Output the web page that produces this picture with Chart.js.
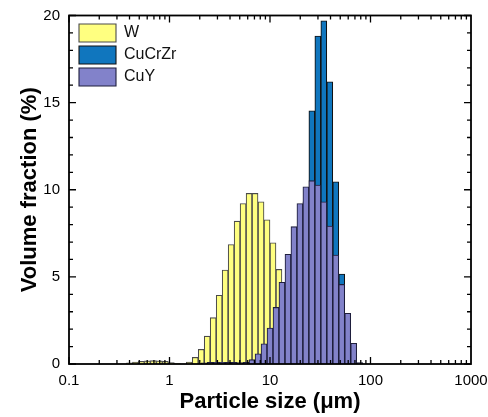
<!DOCTYPE html>
<html>
<head>
<meta charset="utf-8">
<title>Particle size distribution</title>
<script src="https://cdn.jsdelivr.net/npm/chart.js@4.4.1/dist/chart.umd.min.js"></script>
<style>
  html, body { margin: 0; padding: 0; background: #ffffff; }
  #wrap { width: 488px; height: 417px; }
</style>
</head>
<body>
<div id="wrap"><canvas id="psd" width="488" height="417"></canvas></div>
<script>
// Bin centres (µm) of the W measurement
const wSizes = [0.3997, 0.4584, 0.5257, 0.6029, 0.6914, 0.7930, 0.9094, 1.043, 1.196, 1.372,
                1.573, 1.804, 2.069, 2.373, 2.721, 3.121, 3.579, 4.105, 4.707, 5.398,
                6.191, 7.100, 8.143, 9.338, 10.71, 12.28, 14.09, 16.15, 18.53, 21.25,
                24.36, 27.94];
// Volume fraction (%) per W bin
const wValues = [0.07, 0.11, 0.15, 0.18, 0.19, 0.18, 0.15, 0.08, 0.03, null,
                 0.11, 0.38, 0.84, 1.60, 2.66, 3.94, 5.39, 6.86, 8.20, 9.21,
                 9.79, 9.79, 9.31, 8.28, 6.96, 5.43, 4.05, 2.75, 1.70, 0.95,
                 0.45, 0.15];

// Bin centres (µm) of the copper alloy measurements
const cuSizes = [2.216, 2.541, 2.914, 3.342, 3.833, 4.395, 5.041, 5.781, 6.630, 7.603,
                 8.720, 10.00, 11.47, 13.15, 15.09, 17.30, 19.84, 22.75, 26.09, 29.92,
                 34.31, 39.36, 45.14, 51.76, 59.36, 68.08, 78.07];
// Volume fraction (%) per bin, CuCrZr
const cucrzrValues = [null, null, null, null, null, null, null, null, null, null,
                      null, null, null, 0.3, 1.0, 3.2, 6.8, 9.3, 14.53, 18.82,
                      19.70, 16.20, 10.46, 5.16, 1.6, 0.3, null];
// Volume fraction (%) per bin, CuY
const cuyValues = [0.06, 0.09, 0.10, 0.10, 0.09, 0.09, 0.08, 0.09, 0.25, 0.59,
                   1.16, 2.06, 3.25, 4.69, 6.30, 7.88, 9.21, 10.17, 10.52, 10.27,
                   9.31, 7.92, 6.25, 4.57, 2.91, 1.19, 0.08];

// Axis ticks
const xTicks = [0.1, 1, 10, 100, 1000];
const yTicks = [0, 5, 10, 15, 20];

const FONT = '"Liberation Sans", Arial, Helvetica, sans-serif';

function points(sizes, values) {
  const out = [];
  sizes.forEach((s, i) => { if (values[i] !== null) out.push({ x: s, y: values[i] }); });
  return out;
}

// Black frame with inward-pointing ticks on all four sides
const framePlugin = {
  id: 'frame',
  afterDraw(chart) {
    const { ctx, chartArea: a, scales: { x, y } } = chart;
    ctx.save();
    ctx.strokeStyle = '#000';
    ctx.lineWidth = 1.3;
    ctx.beginPath();
    for (let d = 0.1; d < 1000; d *= 10) {
      for (let m = 1; m <= 9; m++) {
        const px = x.getPixelForValue(d * m);
        const len = m === 1 ? 7 : 4;
        ctx.moveTo(px, a.bottom); ctx.lineTo(px, a.bottom - len);
        ctx.moveTo(px, a.top); ctx.lineTo(px, a.top + len);
      }
    }
    for (let v = y.min; v <= y.max; v++) {
      const py = y.getPixelForValue(v);
      const len = v % 5 === 0 ? 7 : 4;
      ctx.moveTo(a.left, py); ctx.lineTo(a.left + len, py);
      ctx.moveTo(a.right, py); ctx.lineTo(a.right - len, py);
    }
    ctx.stroke();
    ctx.lineWidth = 1.8;
    ctx.strokeRect(a.left, a.top, a.right - a.left, a.bottom - a.top);
    ctx.restore();
  }
};

// Places the legend in the upper-left corner of the plot area
const legendPlacer = {
  id: 'legendPlacer',
  afterLayout(chart) {
    const lg = chart.legend;
    if (!lg) return;
    const a = chart.chartArea;
    const w = lg.width;
    lg.left = a.left + 6;
    lg.right = lg.left + w;
    lg.top = a.top + 4.5;
    lg.bottom = a.bottom;
  }
};

const barShape = { grouped: false, categoryPercentage: 1, barPercentage: 1 };

new Chart(document.getElementById('psd'), {
  type: 'bar',
  data: {
    datasets: [
      Object.assign({
        label: 'W',
        data: points(wSizes, wValues),
        xAxisID: 'xw',
        backgroundColor: '#FFFF80',
        borderColor: '#4A4A4A',
        borderWidth: 1.1,
        order: 3
      }, barShape),
      Object.assign({
        label: 'CuCrZr',
        data: points(cuSizes, cucrzrValues),
        xAxisID: 'x',
        backgroundColor: '#1076BE',
        borderColor: '#111111',
        borderWidth: 1.1,
        order: 2
      }, barShape),
      Object.assign({
        label: 'CuY',
        data: points(cuSizes, cuyValues),
        xAxisID: 'x',
        backgroundColor: '#8282CA',
        borderColor: '#1E1E3C',
        borderWidth: 1.1,
        order: 1
      }, barShape)
    ]
  },
  options: {
    responsive: false,
    animation: false,
    events: [],
    layout: { padding: { left: 0, right: 17, top: 15.5, bottom: 0 } },
    scales: {
      x: {
        type: 'logarithmic',
        position: 'bottom',
        min: 0.1,
        max: 1000,
        offset: false,
        grid: { display: false, drawTicks: false },
        border: { display: false },
        afterBuildTicks: s => { s.ticks = xTicks.map(v => ({ value: v })); },
        afterFit: s => { s.height = 53; s.paddingLeft = 0; s.paddingRight = 0; },
        ticks: {
          autoSkip: false,
          maxRotation: 0,
          padding: 8,
          color: '#000',
          font: { family: FONT, size: 15 },
          callback: v => String(v)
        },
        title: {
          display: true,
          text: 'Particle size (μm)',
          color: '#000',
          font: { family: FONT, size: 22, weight: 'bold' },
          padding: { top: 0, bottom: 2 }
        }
      },
      // Same log axis, used by the W bins so each grid keeps its own bar width
      xw: {
        type: 'logarithmic',
        position: 'bottom',
        display: false,
        min: 0.1,
        max: 1000,
        offset: false,
        afterBuildTicks: s => { s.ticks = xTicks.map(v => ({ value: v })); }
      },
      y: {
        min: 0,
        max: 20,
        grid: { display: false, drawTicks: false },
        border: { display: false },
        afterBuildTicks: s => { s.ticks = yTicks.map(v => ({ value: v })); },
        afterFit: s => { s.width = 69; s.paddingTop = 0; s.paddingBottom = 0; },
        ticks: {
          padding: 9,
          color: '#000',
          font: { family: FONT, size: 15 }
        },
        title: {
          display: true,
          text: 'Volume fraction (%)',
          color: '#000',
          font: { family: FONT, size: 22, weight: 'bold' },
          padding: { top: 17, bottom: 0 }
        }
      }
    },
    plugins: {
      tooltip: { enabled: false },
      legend: {
        position: 'chartArea',
        align: 'start',
        reverse: true,
        labels: {
          boxWidth: 37,
          boxHeight: 18,
          padding: 4,
          color: '#111',
          font: { family: FONT, size: 16 }
        }
      }
    }
  },
  plugins: [framePlugin, legendPlacer]
});
</script>
</body>
</html>
